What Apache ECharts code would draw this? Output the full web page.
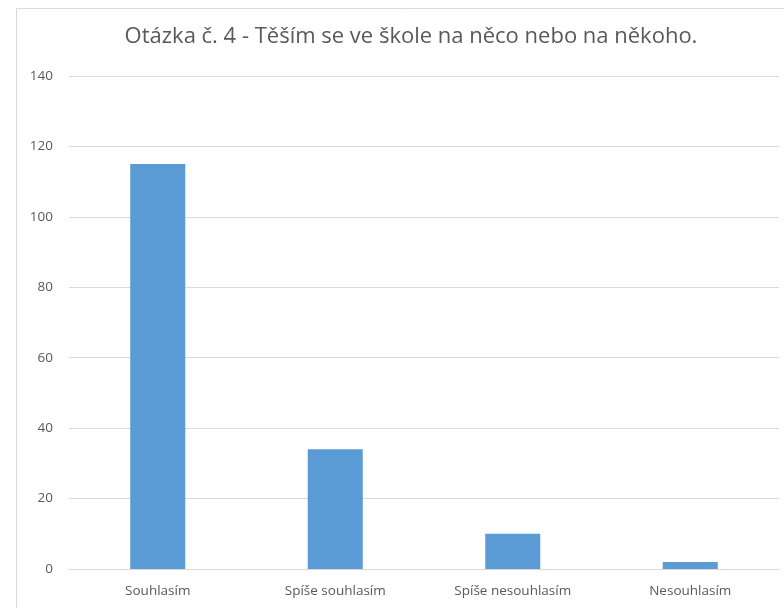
<!DOCTYPE html>
<html>
<head>
<meta charset="utf-8">
<script src="https://cdn.jsdelivr.net/npm/echarts@6/dist/echarts.min.js"></script>
<style>
  html, body { margin: 0; padding: 0; background: #fff; }
  #chart { width: 784px; height: 608px; }
</style>
</head>
<body>
<div id="chart"></div>
<script>
  var categories = ['Souhlasím', 'Spíše souhlasím', 'Spíše nesouhlasím', 'Nesouhlasím'];
  var counts = [115, 34, 10, 2];
  var yTicks = { min: 0, max: 140, step: 20 };

  var chart = echarts.init(document.getElementById('chart'));
  chart.setOption({
    animation: false,
    textStyle: { fontFamily: 'Open Sans' },
    graphic: [{
      type: 'rect',
      shape: { x: 16.5, y: 8.5, width: 800, height: 640 },
      style: { fill: 'none', stroke: '#d9d9d9', lineWidth: 1 },
      silent: true
    }],
    title: {
      text: 'Otázka č. 4 - Těším se ve škole na něco nebo na někoho.',
      left: 406,
      textAlign: 'center',
      top: 21,
      textStyle: { fontSize: 22, fontWeight: 'normal', color: '#595959', fontFamily: 'Open Sans' }
    },
    grid: { left: 69, right: 5, top: 76, bottom: 39, containLabel: false },
    xAxis: {
      type: 'category',
      data: categories,
      axisLine: { lineStyle: { color: '#d9d9d9' } },
      axisTick: { show: false },
      axisLabel: { color: '#595959', fontSize: 13.5, margin: 15 }
    },
    yAxis: {
      type: 'value',
      min: yTicks.min,
      max: yTicks.max,
      interval: yTicks.step,
      axisLine: { show: false },
      axisTick: { show: false },
      axisLabel: { color: '#595959', fontSize: 13.5, margin: 16 },
      splitLine: { lineStyle: { color: '#d9d9d9' } }
    },
    series: [{
      type: 'bar',
      data: counts,
      barWidth: '31%',
      itemStyle: { color: '#5b9bd5' }
    }]
  });
</script>
</body>
</html>
